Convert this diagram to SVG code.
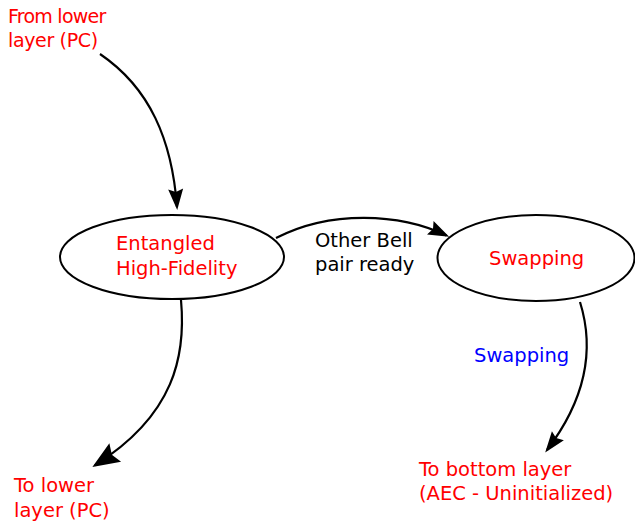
<svg xmlns="http://www.w3.org/2000/svg" width="635" height="523" viewBox="0 0 635 523">
  <style>
    .state { fill: #ffffff; stroke: #000000; stroke-width: 2; }
    .edge { fill: none; stroke: #000000; stroke-width: 2.2; }
    text { font-family: "DejaVu Sans", "Liberation Sans", sans-serif; font-size: 19.5px; }
    .red { fill: #ff0000; }
    .blue { fill: #0000ff; }
    .black { fill: #000000; }
    .tight { font-size: 19px; }
  </style>
  <defs>
    <marker id="arrow" markerUnits="userSpaceOnUse" markerWidth="40" markerHeight="40" orient="auto" overflow="visible">
      <path d="M3,0 L-18,-7.5 L-15,0 L-18,7.5 Z" fill="#000000"/>
    </marker>
    <marker id="arrow-large" markerUnits="userSpaceOnUse" markerWidth="50" markerHeight="50" orient="auto" overflow="visible">
      <path d="M3,0 L-24,-11 L-20,0 L-24,11 Z" fill="#000000"/>
    </marker>
  </defs>

  <rect width="635" height="523" fill="#ffffff"/>

  <g id="connectors">
    <path class="edge" marker-end="url(#arrow)" d="M100,54 C150,88 172,140 177,207"/>
    <path class="edge" marker-end="url(#arrow-large)" d="M181,300 C186,355 175,415 94.9,465.3"/>
    <path class="edge" marker-end="url(#arrow)" d="M276,238 C330,210 400,213 446.5,235.5"/>
    <path class="edge" marker-end="url(#arrow)" d="M580,302 C595,350 585,400 547,450"/>
  </g>

  <g id="entangled">
    <ellipse class="state" cx="172" cy="257" rx="112" ry="42"/>
    <text class="red" x="116" y="250">Entangled</text>
    <text class="red" x="116" y="275">High-Fidelity</text>
  </g>

  <g id="swapping">
    <ellipse class="state" cx="536" cy="258" rx="98.5" ry="43"/>
    <text class="red" x="489" y="265">Swapping</text>
  </g>

  <g id="from-lower">
    <text class="red tight" x="8" y="23" letter-spacing="-0.75">From lower</text>
    <text class="red tight" x="8" y="47" letter-spacing="-0.35">layer (PC)</text>
  </g>

  <g id="to-lower">
    <text class="red" x="14" y="492">To lower</text>
    <text class="red" x="14" y="517">layer (PC)</text>
  </g>

  <g id="to-bottom">
    <text class="red" x="419" y="476">To bottom layer</text>
    <text class="red" x="419" y="500">(AEC - Uninitialized)</text>
  </g>

  <g id="labels">
    <text class="black" x="315" y="247">Other Bell</text>
    <text class="black" x="315" y="271">pair ready</text>
    <text class="blue" x="474" y="362">Swapping</text>
  </g>
</svg>
